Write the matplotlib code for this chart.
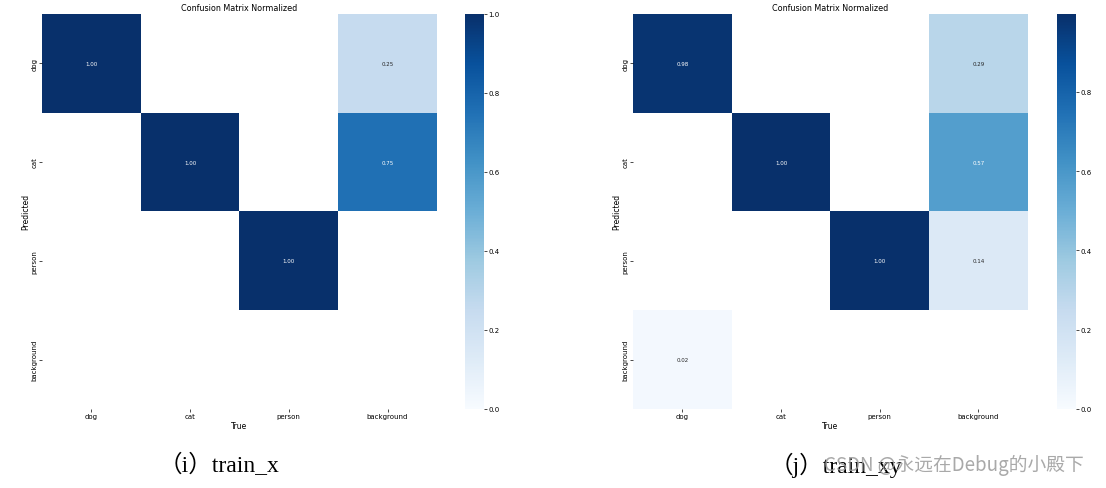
import matplotlib
matplotlib.use('Agg')
import matplotlib.pyplot as plt
import numpy as np
import seaborn as sns

names = ['dog', 'cat', 'person', 'background']

# rows = predicted, cols = true (column-normalized)
cm_x = [[1.00, 0.00, 0.00, 0.25],
        [0.00, 1.00, 0.00, 0.75],
        [0.00, 0.00, 1.00, 0.00],
        [0.00, 0.00, 0.00, 0.00]]

cm_xy = [[0.98, 0.00, 0.00, 0.29],
         [0.00, 0.997, 0.00, 0.57],
         [0.00, 0.00, 0.997, 0.14],
         [0.02, 0.00, 0.00, 0.00]]

captions = ['（i）train_x', '（j）train_xy']
caption_x = [0.198, 0.756]
watermark = 'CSDN @永远在Debug的小殿下'

fig = plt.figure(figsize=(11.06, 4.89), dpi=100)

panels = [(cm_x, 0.038, 0.4204), (cm_xy, 0.5723, 0.9557)]
for (cm, x0, cx0), cap, capx in zip(panels, captions, caption_x):
    arr = np.array(cm, dtype=float)
    arr[arr < 0.005] = np.nan
    ax = fig.add_axes([x0, 0.1616, 0.357, 0.808])
    cax = fig.add_axes([cx0, 0.1616, 0.0172, 0.808])
    sns.heatmap(arr, ax=ax, cbar_ax=cax, annot=True, annot_kws={'size': 4},
                cmap='Blues', fmt='.2f', square=False, vmin=0.0,
                xticklabels=names, yticklabels=names)
    ax.set_facecolor('white')
    ax.set_title('Confusion Matrix Normalized', fontsize=5.8, pad=3)
    ax.set_xlabel('True', fontsize=5.5, labelpad=1)
    ax.set_ylabel('Predicted', fontsize=5.5, labelpad=1)
    ax.tick_params(labelsize=5, length=2, width=0.5, pad=1)
    plt.setp(ax.get_yticklabels(), rotation=90, va='center')
    cax.tick_params(labelsize=5, length=2, width=0.5, pad=1)
    for s in cax.spines.values():
        s.set_visible(False)
    fig.text(capx, 0.049, cap, fontsize=17,
             family=['Liberation Serif', 'Noto Sans CJK SC'],
             ha='center', va='center')

fig.text(0.98, 0.049, watermark, fontsize=13.5, color='#9a9a9a', alpha=0.85,
         family=['Noto Sans CJK SC', 'DejaVu Sans'], ha='right', va='center')

fig.savefig('out.png', dpi=100)
